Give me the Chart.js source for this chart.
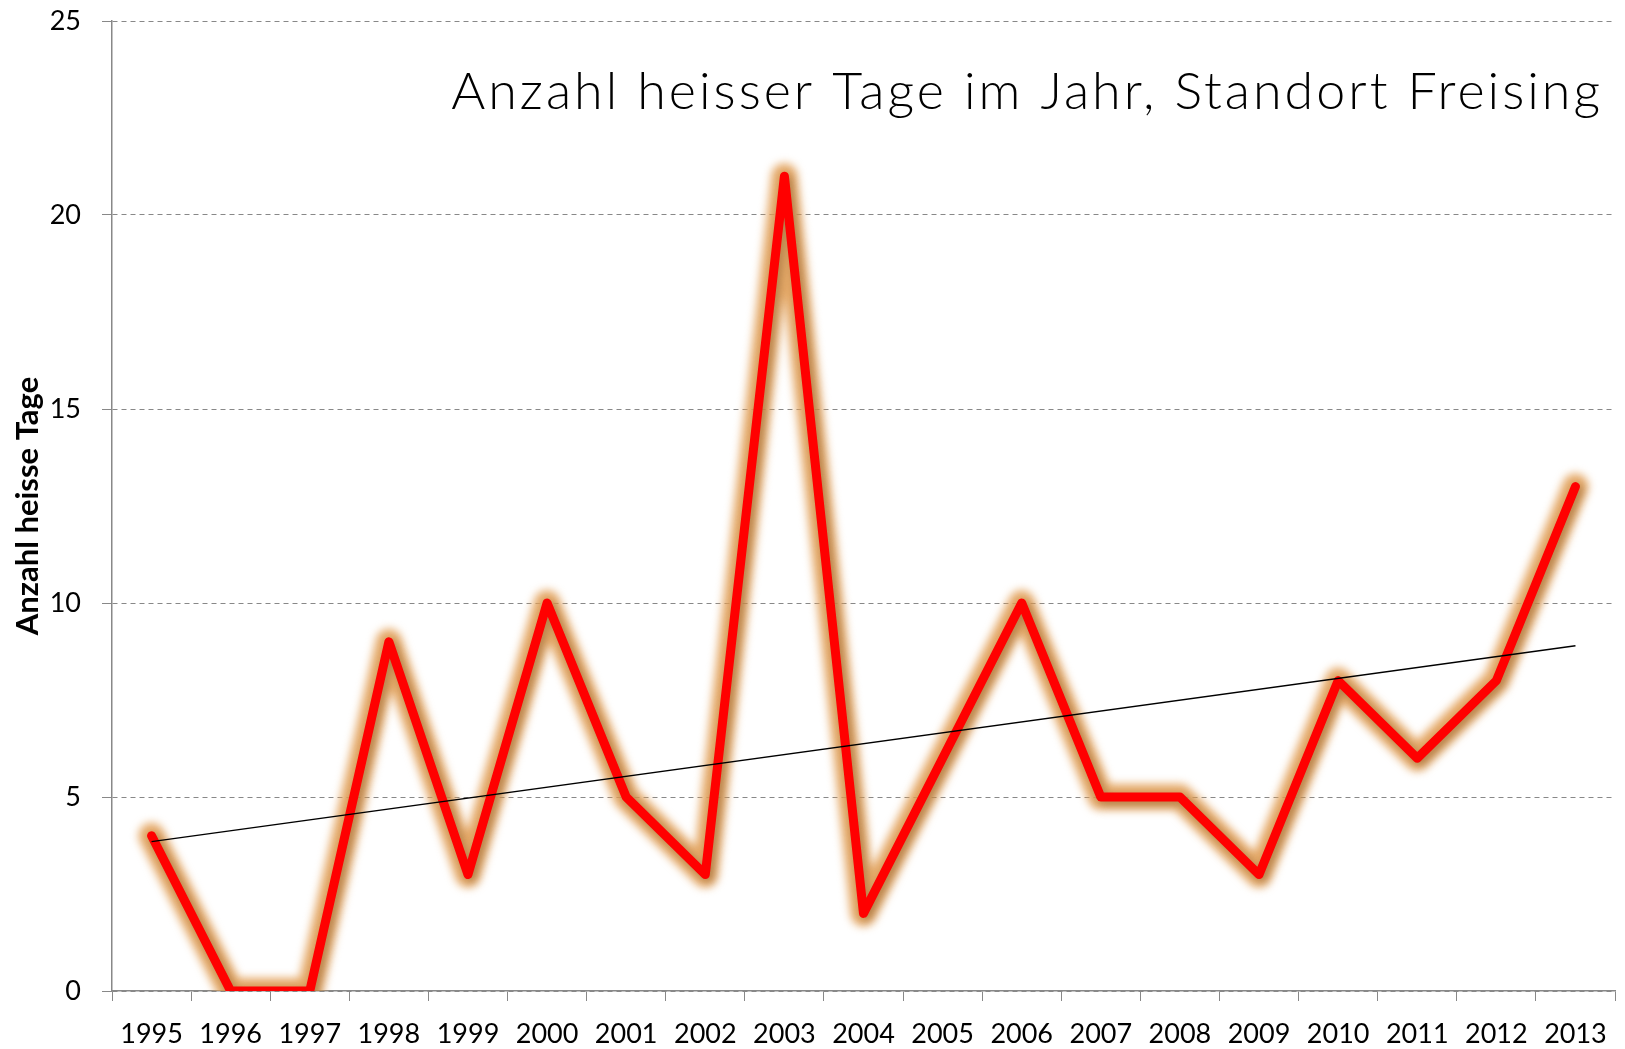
<!DOCTYPE html>
<html>
<head>
<meta charset="utf-8">
<script src="https://cdn.jsdelivr.net/npm/chart.js@4"></script>
<style>
html, body { margin: 0; padding: 0; background: #fff; }
</style>
</head>
<body>
<canvas id="chart" width="1625" height="1049"></canvas>
<script>
const years = ['1995', '1996', '1997', '1998', '1999', '2000', '2001', '2002', '2003', '2004',
               '2005', '2006', '2007', '2008', '2009', '2010', '2011', '2012', '2013'];
const hotDays = [4, 0, 0, 9, 3, 10, 5, 3, 21, 2, 6, 10, 5, 5, 3, 8, 6, 8, 13];

// linear trend line, read at its two ends
const trendYears = ['1995', '2013'];
const trendDays = [3.85, 8.9];

const yTicks = [0, 5, 10, 15, 20, 25];

const chartTitle = 'Anzahl heisser Tage im Jahr, Standort Freising';
const yTitle = 'Anzahl heisse Tage';

// dataset 2 is the soft glow band, dataset 0 the red line with a drop shadow
const glowPlugin = {
    id: 'glow',
    beforeDatasetDraw(chart, args) {
        const ctx = chart.ctx;
        if (args.index === 2) {
            ctx.save();
            ctx.filter = 'blur(4px)';
        } else if (args.index === 0) {
            ctx.save();
            ctx.shadowColor = 'rgba(110, 70, 30, 0.45)';
            ctx.shadowBlur = 8;
            ctx.shadowOffsetX = 3;
            ctx.shadowOffsetY = 3;
        }
    },
    afterDatasetDraw(chart, args) {
        if (args.index === 0 || args.index === 2) chart.ctx.restore();
    }
};

// title sits inside the plot, top right
const insideTitle = {
    id: 'insideTitle',
    afterDraw(chart) {
        const ctx = chart.ctx;
        const area = chart.chartArea;
        ctx.save();
        ctx.font = '300 52px Lato';
        ctx.letterSpacing = '3px';
        ctx.fillStyle = '#000';
        ctx.textAlign = 'right';
        ctx.textBaseline = 'alphabetic';
        ctx.fillText(chartTitle, area.right - 12, area.top + 88);
        ctx.restore();
    }
};

const ctx = document.getElementById('chart').getContext('2d');
const chart = new Chart(ctx, {
    type: 'line',
    data: {
        labels: years,
        datasets: [
            {
                data: hotDays,
                borderColor: '#ff0000',
                borderWidth: 9,
                borderJoinStyle: 'round',
                borderCapStyle: 'round',
                tension: 0,
                pointRadius: 0,
                order: 1,
            },
            {
                data: trendYears.map((y, i) => ({ x: y, y: trendDays[i] })),
                borderColor: '#000',
                borderWidth: 1.5,
                tension: 0,
                pointRadius: 0,
                order: 0,
            },
            {
                data: hotDays,
                borderColor: 'rgba(226, 160, 88, 0.9)',
                borderWidth: 26,
                borderJoinStyle: 'round',
                borderCapStyle: 'round',
                tension: 0,
                pointRadius: 0,
                order: 2,
            },
        ],
    },
    options: {
        responsive: false,
        animation: false,
        layout: {
            padding: { top: 21, right: 10, bottom: 0, left: 0 },
        },
        plugins: {
            legend: { display: false },
            tooltip: { enabled: false },
            title: { display: false },
        },
        scales: {
            x: {
                type: 'category',
                offset: true,
                grid: {
                    display: true,
                    drawOnChartArea: false,
                    drawTicks: true,
                    tickLength: 10,
                    color: '#888',
                    offset: true,
                },
                border: { display: true, color: '#888', width: 1.5 },
                ticks: {
                    color: '#000',
                    font: { family: 'Lato', size: 27 },
                    padding: 17,
                    maxRotation: 0,
                    autoSkip: false,
                },
                afterFit: (scale) => { scale.height = 58; },
            },
            y: {
                min: 0,
                max: 25,
                afterBuildTicks: (scale) => { scale.ticks = yTicks.map(v => ({ value: v })); },
                grid: {
                    color: '#888',
                    lineWidth: 1,
                    tickLength: 10,
                    tickBorderDash: [],
                },
                border: { display: true, color: '#888', width: 1.5, dash: [5, 4] },
                ticks: {
                    color: '#000',
                    font: { family: 'Lato', size: 27 },
                    padding: 21,
                },
                title: {
                    display: true,
                    text: yTitle,
                    color: '#000',
                    font: { family: 'Lato', size: 31, weight: 'bold' },
                    padding: { top: 9, bottom: 0 },
                },
                afterFit: (scale) => {
                    scale.width = 112;
                    scale.paddingTop = 0;
                    scale.paddingBottom = 0;
                },
            },
        },
    },
    plugins: [glowPlugin, insideTitle],
});
</script>
</body>
</html>
